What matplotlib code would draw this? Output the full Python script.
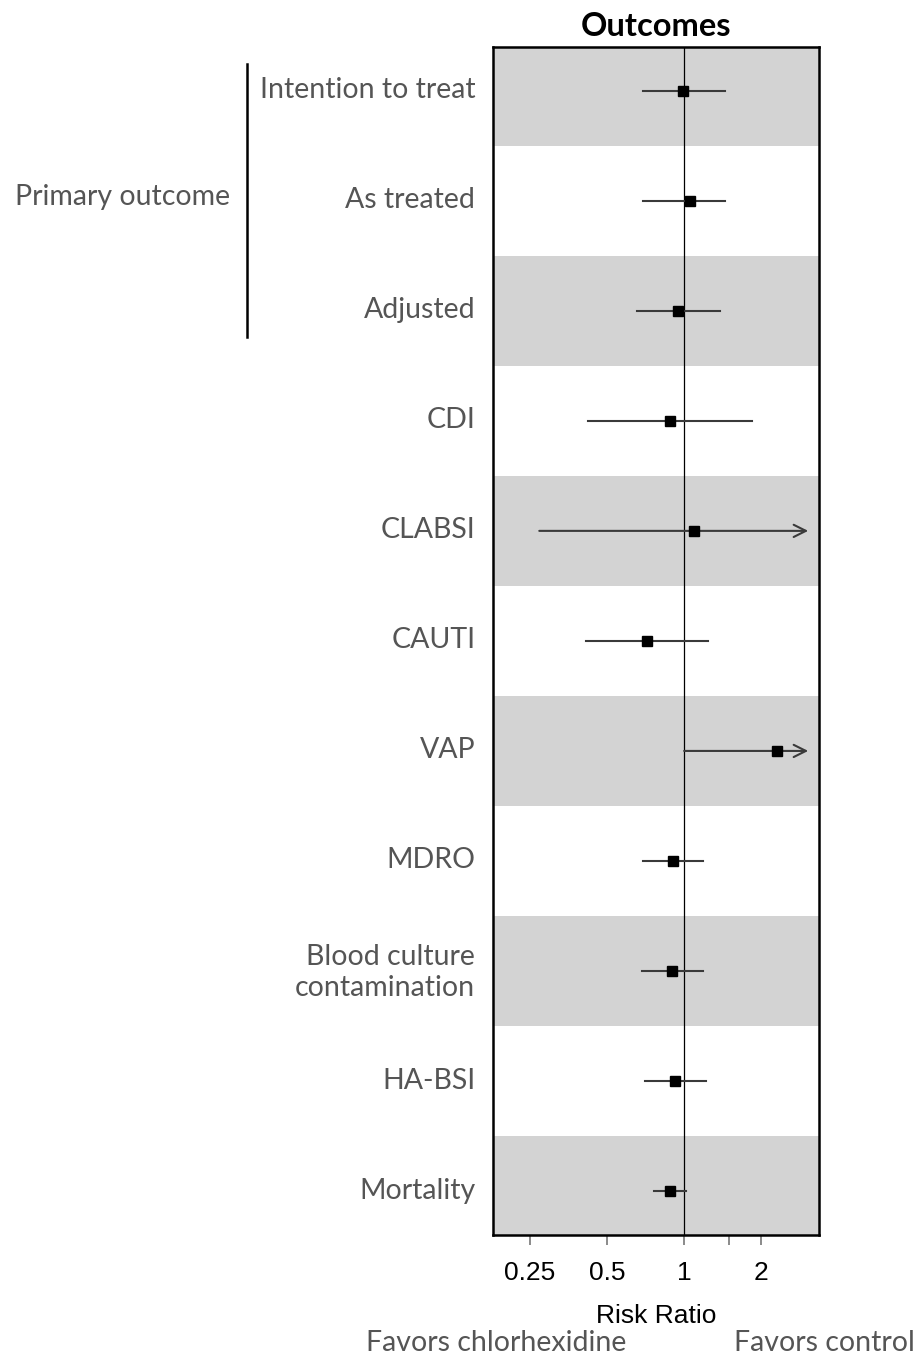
import numpy as np
import matplotlib
matplotlib.use("Agg")
import matplotlib.pyplot as plt
import matplotlib.transforms as mtransforms

# outcomes, top to bottom
outcomes = ["Intention to treat", "As treated", "Adjusted", "CDI", "CLABSI", "CAUTI",
            "VAP", "MDRO", "Blood culture\ncontamination", "HA-BSI", "Mortality"]
risk_ratio = [0.99, 1.055, 0.95, 0.88, 1.09, 0.715, 2.30, 0.905, 0.895, 0.92, 0.88]
ci_low = [0.69, 0.69, 0.655, 0.423, 0.272, 0.414, 1.0, 0.688, 0.682, 0.705, 0.76]
ci_high = [1.44, 1.44, 1.38, 1.84, np.inf, 1.24, np.inf, 1.19, 1.18, 1.215, 1.02]
arrow_cap = 3.05  # where open-ended intervals are cut and drawn as arrows

tick_vals = [0.25, 0.5, 1, 1.5, 2]
tick_text = ["0.25", "0.5", "1", "", "2"]

grey_txt = "#555555"
label_font = "Lato"
lab_size = 20.5

fig = plt.figure(figsize=(9.18, 13.59), dpi=100)
ax = fig.add_axes([0.5374, 0.0912, 0.3551, 0.8744])

n = len(outcomes)
ypos = np.arange(n, 0, -1)

# alternating grey bands
for i, y in enumerate(ypos):
    if i % 2 == 0:
        ax.axhspan(y - 0.5, y + 0.5, color="#d3d3d3", lw=0, zorder=0)

ax.axvline(1, color="black", lw=0.9, zorder=1)

for y, rr, lo, hi in zip(ypos, risk_ratio, ci_low, ci_high):
    if np.isfinite(hi):
        ax.plot([lo, hi], [y, y], color="#3a3a3a", lw=1.5, zorder=2)
    else:
        ax.annotate("", xy=(arrow_cap, y), xytext=(lo, y),
                    arrowprops=dict(arrowstyle="->", color="#3a3a3a", lw=1.5,
                                    mutation_scale=22, shrinkA=0, shrinkB=0),
                    zorder=2)
    ax.plot(rr, y, marker="s", color="black", ms=7.5, zorder=3)

ax.set_xscale("log")
ax.set_xlim(0.18, 3.37)
ax.set_ylim(0.6, n + 0.4)
ax.set_xticks(tick_vals)
ax.set_xticklabels(tick_text, fontsize=19, family="Liberation Sans")
ax.minorticks_off()
ax.tick_params(axis="x", direction="out", length=7, width=1.2, color="#777777", pad=12)

ax.set_yticks(ypos)
ax.set_yticklabels(outcomes, fontsize=lab_size, family=label_font, color=grey_txt, ha="right")
ax.tick_params(axis="y", length=0, pad=13)
for lbl in ax.get_yticklabels():
    lbl.set_y(lbl.get_position()[1])
    lbl.set_transform(lbl.get_transform() + mtransforms.ScaledTranslation(0, 3 / 100, fig.dpi_scale_trans))

for sp in ax.spines.values():
    sp.set_linewidth(1.8)
    sp.set_color("black")

ax.set_title("Outcomes", fontsize=23.5, fontweight="bold", family=label_font, pad=8)
ax.set_xlabel("Risk Ratio", fontsize=19, family="Liberation Sans", labelpad=13)

# bracket for the primary outcome group
trans = mtransforms.blended_transform_factory(ax.transAxes, ax.transData)
ax.plot([-0.757, -0.757], [ypos[2] - 0.24, ypos[0] + 0.24], color="black", lw=1.8,
        transform=trans, clip_on=False)
ax.text(-0.807, ypos[1] + 0.03, "Primary outcome", transform=trans, ha="right", va="center",
        fontsize=lab_size, family=label_font, color=grey_txt)

fig.text(0.541, 0.012, "Favors chlorhexidine", ha="center", va="center",
         fontsize=lab_size, family=label_font, color=grey_txt)
fig.text(0.8, 0.012, "Favors control", ha="left", va="center",
         fontsize=lab_size, family=label_font, color=grey_txt)

fig.savefig("out.png", dpi=100)
